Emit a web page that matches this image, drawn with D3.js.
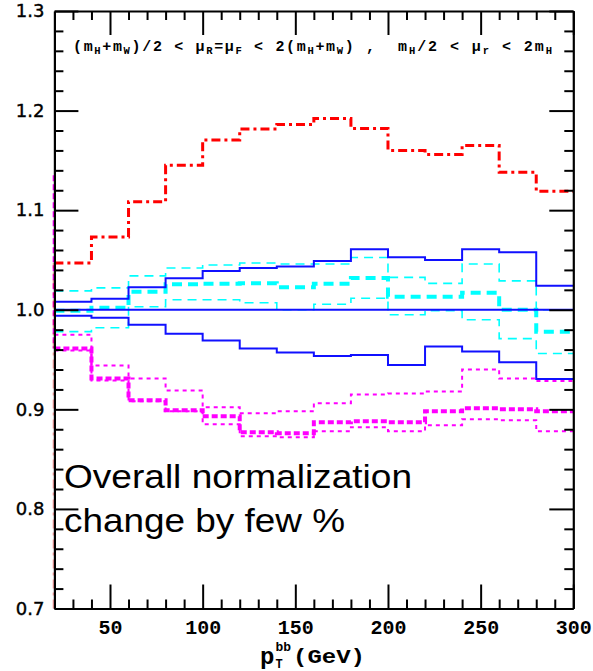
<!DOCTYPE html>
<html>
<head>
<meta charset="utf-8">
<script src="https://cdn.jsdelivr.net/npm/d3@7"></script>
<style>
  html, body { margin: 0; padding: 0; background: #fff; }
  #chart { width: 593px; height: 671px; }
  .mono { font-family: "Courier New", "Liberation Mono", monospace; }
</style>
</head>
<body>
<div id="chart"></div>
<script>
/* ---------- Data ---------- */
const binEdges = [20, 40, 60, 80, 100, 120, 140, 160, 180, 200, 220, 240, 260, 280, 300];

// scale-variation ratios per pT bin
const redRatio      = [1.047, 1.073, 1.1085, 1.145, 1.1705, 1.1815, 1.186, 1.192, 1.182, 1.160, 1.156, 1.165, 1.138, 1.119];
const blueUpper     = [1.008, 1.011, 1.0226, 1.0316, 1.039, 1.042, 1.0435, 1.049, 1.0607, 1.0527, 1.050, 1.0607, 1.0577, 1.0242];
const blueCentral   = [1.0, 1.0, 1.0, 1.0, 1.0, 1.0, 1.0, 1.0, 1.0, 1.0, 1.0, 1.0, 1.0, 1.0];
const blueLower     = [0.994, 0.992, 0.985, 0.976, 0.969, 0.961, 0.957, 0.9536, 0.9546, 0.9446, 0.963, 0.958, 0.9473, 0.9305];
const cyanUpper     = [1.019, 1.022, 1.034, 1.042, 1.045, 1.047, 1.046, 1.046, 1.0525, 1.0325, 1.0265, 1.046, 1.029, 1.000];
const cyanCentral   = [0.999, 1.002, 1.018, 1.0255, 1.026, 1.0265, 1.0225, 1.026, 1.032, 1.013, 1.013, 1.017, 1.000, 0.978];
const cyanLower     = [0.978, 0.982, 1.003, 1.010, 1.010, 1.007, 1.000, 1.0055, 1.0115, 0.995, 0.999, 0.990, 0.971, 0.956];
const magentaUpper  = [0.975, 0.944, 0.931, 0.919, 0.902, 0.896, 0.898, 0.906, 0.915, 0.916, 0.918, 0.940, 0.931, 0.9285];
const magentaCentral= [0.961, 0.931, 0.909, 0.899, 0.893, 0.877, 0.876, 0.887, 0.888, 0.887, 0.898, 0.901, 0.900, 0.898];
const magentaLower  = [0.959, 0.929, 0.908, 0.898, 0.885, 0.873, 0.872, 0.878, 0.882, 0.878, 0.884, 0.890, 0.889, 0.878];

// value the histogram edge comes from at the left border (clipped bins)
const redLeadIn = 0.7;
const magentaLeadIn = 1.135;

const yTickValues = [0.7, 0.8, 0.9, 1.0, 1.1, 1.2, 1.3];
const xTickValues = [50, 100, 150, 200, 250, 300];

/* ---------- Setup ---------- */
const W = 593, H = 671;
const svg = d3.select("#chart").append("svg")
  .attr("width", W)
  .attr("height", H);

const x = d3.scaleLinear().domain([20, 300]).range([54.4, 573.3]);
const y = d3.scaleLinear().domain([0.7, 1.3]).range([608.5, 11]);

/* ---------- Histograms ---------- */
const stepLine = d3.line()
  .x(d => x(d[0]))
  .y(d => y(d[1]))
  .curve(d3.curveStepAfter);

function histPoints(values) {
  const pts = values.map((v, i) => [binEdges[i], v]);
  pts.push([binEdges[binEdges.length - 1], values[values.length - 1]]);
  return pts;
}

function drawHist(values, color, width, dash, leadIn) {
  svg.append("path")
    .datum(histPoints(values))
    .attr("fill", "none")
    .attr("stroke", color)
    .attr("stroke-width", width)
    .attr("stroke-dasharray", dash)
    .attr("d", stepLine);
  if (leadIn !== undefined) {
    svg.append("line")
      .attr("x1", x(binEdges[0]) - 1).attr("x2", x(binEdges[0]) - 1)
      .attr("y1", y(leadIn)).attr("y2", y(values[0]))
      .attr("stroke", color)
      .attr("stroke-width", 1.5)
      .attr("stroke-opacity", color === "#ff0000" ? 0.35 : 1)
      .attr("stroke-dasharray", dash);
  }
}

drawHist(magentaUpper, "#ff00ff", 2, "4,4");
drawHist(magentaLower, "#ff00ff", 2, "4,4");
drawHist(magentaCentral, "#ff00ff", 4, "6,3", magentaLeadIn);
drawHist(cyanUpper, "#00ffff", 1.6, "9,6");
drawHist(cyanLower, "#00ffff", 1.6, "9,6");
drawHist(cyanCentral, "#00ffff", 4, "10,6");
drawHist(blueUpper, "#1010ff", 2, null);
drawHist(blueLower, "#1010ff", 2, null);
drawHist(blueCentral, "#1010ff", 2, null);
drawHist(redRatio, "#ff0000", 3, "9,4,3,4", redLeadIn);

/* ---------- Axes (ticks inward on all four sides) ---------- */
const yMinor = d3.range(0.72, 1.3, 0.02).filter(v => Math.abs((v * 10) % 1) > 0.05 && Math.abs((v * 10) % 1) < 0.95);
const xMinor = d3.range(30, 300, 10).filter(v => v % 50 !== 0);

function styleAxis(g) {
  g.select(".domain").attr("stroke", "#000").attr("stroke-width", 2.2);
  g.selectAll(".tick line").attr("stroke", "#000").attr("stroke-width", 2);
}

// left
svg.append("g")
  .attr("transform", `translate(${x(20)},0)`)
  .call(d3.axisLeft(y).tickValues(yTickValues).tickSizeInner(-24).tickSizeOuter(0).tickPadding(10).tickFormat(d3.format(".1f")))
  .call(styleAxis)
  .call(g => g.selectAll("text")
    .style("font-family", "'DejaVu Sans', sans-serif")
    .style("font-size", "18px")
    .style("stroke", "#000")
    .style("stroke-width", "0.4px")
    .attr("fill", "#000"));
svg.append("g")
  .attr("transform", `translate(${x(20)},0)`)
  .call(d3.axisLeft(y).tickValues(yMinor).tickSize(-9).tickFormat(""))
  .call(styleAxis)
  .call(g => g.select(".domain").remove());

// right
svg.append("g")
  .attr("transform", `translate(${x(300)},0)`)
  .call(d3.axisRight(y).tickValues(yTickValues).tickSizeInner(-24).tickSizeOuter(0).tickFormat(""))
  .call(styleAxis);
svg.append("g")
  .attr("transform", `translate(${x(300)},0)`)
  .call(d3.axisRight(y).tickValues(yMinor).tickSize(-9).tickFormat(""))
  .call(styleAxis)
  .call(g => g.select(".domain").remove());

// bottom
svg.append("g")
  .attr("transform", `translate(0,${y(0.7)})`)
  .call(d3.axisBottom(x).tickValues(xTickValues).tickSizeInner(-24).tickSizeOuter(0).tickPadding(11).tickFormat(d3.format("d")))
  .call(styleAxis)
  .call(g => g.selectAll("text")
    .attr("class", "mono")
    .style("font-size", "20px")
    .style("font-weight", "bold")
    .attr("fill", "#000"));
svg.append("g")
  .attr("transform", `translate(0,${y(0.7)})`)
  .call(d3.axisBottom(x).tickValues(xMinor).tickSize(-9).tickFormat(""))
  .call(styleAxis)
  .call(g => g.select(".domain").remove());

// top
svg.append("g")
  .attr("transform", `translate(0,${y(1.3)})`)
  .call(d3.axisTop(x).tickValues(xTickValues).tickSizeInner(-24).tickSizeOuter(0).tickFormat(""))
  .call(styleAxis);
svg.append("g")
  .attr("transform", `translate(0,${y(1.3)})`)
  .call(d3.axisTop(x).tickValues(xMinor).tickSize(-9).tickFormat(""))
  .call(styleAxis)
  .call(g => g.select(".domain").remove());

/* ---------- Texts ---------- */
function richText(parent, xPos, yPos, parts, size, len) {
  const t = parent.append("text")
    .attr("class", "mono")
    .attr("x", xPos)
    .attr("y", yPos)
    .style("font-size", size + "px")
    .style("font-weight", "bold")
    .attr("fill", "#000");
  parts.forEach(p => {
    const s = t.append("tspan").text(p[0]);
    if (p[1] === "sub") s.attr("dy", 3).style("font-size", (size * 0.7) + "px");
    if (p[2]) s.attr("dy", p[2]);
  });
  if (len) t.attr("textLength", len).attr("lengthAdjust", "spacing");
  return t;
}

// scale header
richText(svg, 73, 51, [
  ["(m"], ["H", "sub"], ["+m", null, -3], ["W", "sub"], [")/2 < \u03bc", null, -3], ["R", "sub"],
  ["=\u03bc", null, -3], ["F", "sub"], [" < 2(m", null, -3], ["H", "sub"], ["+m", null, -3], ["W", "sub"], [") ,", null, -3]
], 15, 302);
richText(svg, 398, 51, [
  ["m"], ["H", "sub"], ["/2 < \u03bc", null, -3], ["r", "sub"], [" < 2m", null, -3], ["H", "sub"]
], 15, 154);

// x axis title
const xTitle = svg.append("g").attr("class", "mono").style("font-weight", "bold").attr("fill", "#000");
xTitle.append("text").attr("x", 260).attr("y", 664).style("font-size", "24px").text("p");
xTitle.append("text").attr("x", 275.5).attr("y", 668).style("font-size", "12px").text("T");
xTitle.append("text").attr("x", 275.5).attr("y", 651).style("font-size", "13px").text("bb");
xTitle.append("text").attr("x", 293).attr("y", 663).style("font-size", "21px")
  .attr("textLength", 72).attr("lengthAdjust", "spacingAndGlyphs").text("(GeV)");

// annotation
const note = svg.append("g")
  .style("font-family", "'Liberation Sans', Arial, sans-serif")
  .style("font-size", "34px")
  .attr("fill", "#000");
note.append("text").attr("x", 64).attr("y", 488)
  .attr("textLength", 348).attr("lengthAdjust", "spacingAndGlyphs").text("Overall normalization");
note.append("text").attr("x", 64).attr("y", 532)
  .attr("textLength", 281).attr("lengthAdjust", "spacingAndGlyphs").text("change by few %");
</script>
</body>
</html>
